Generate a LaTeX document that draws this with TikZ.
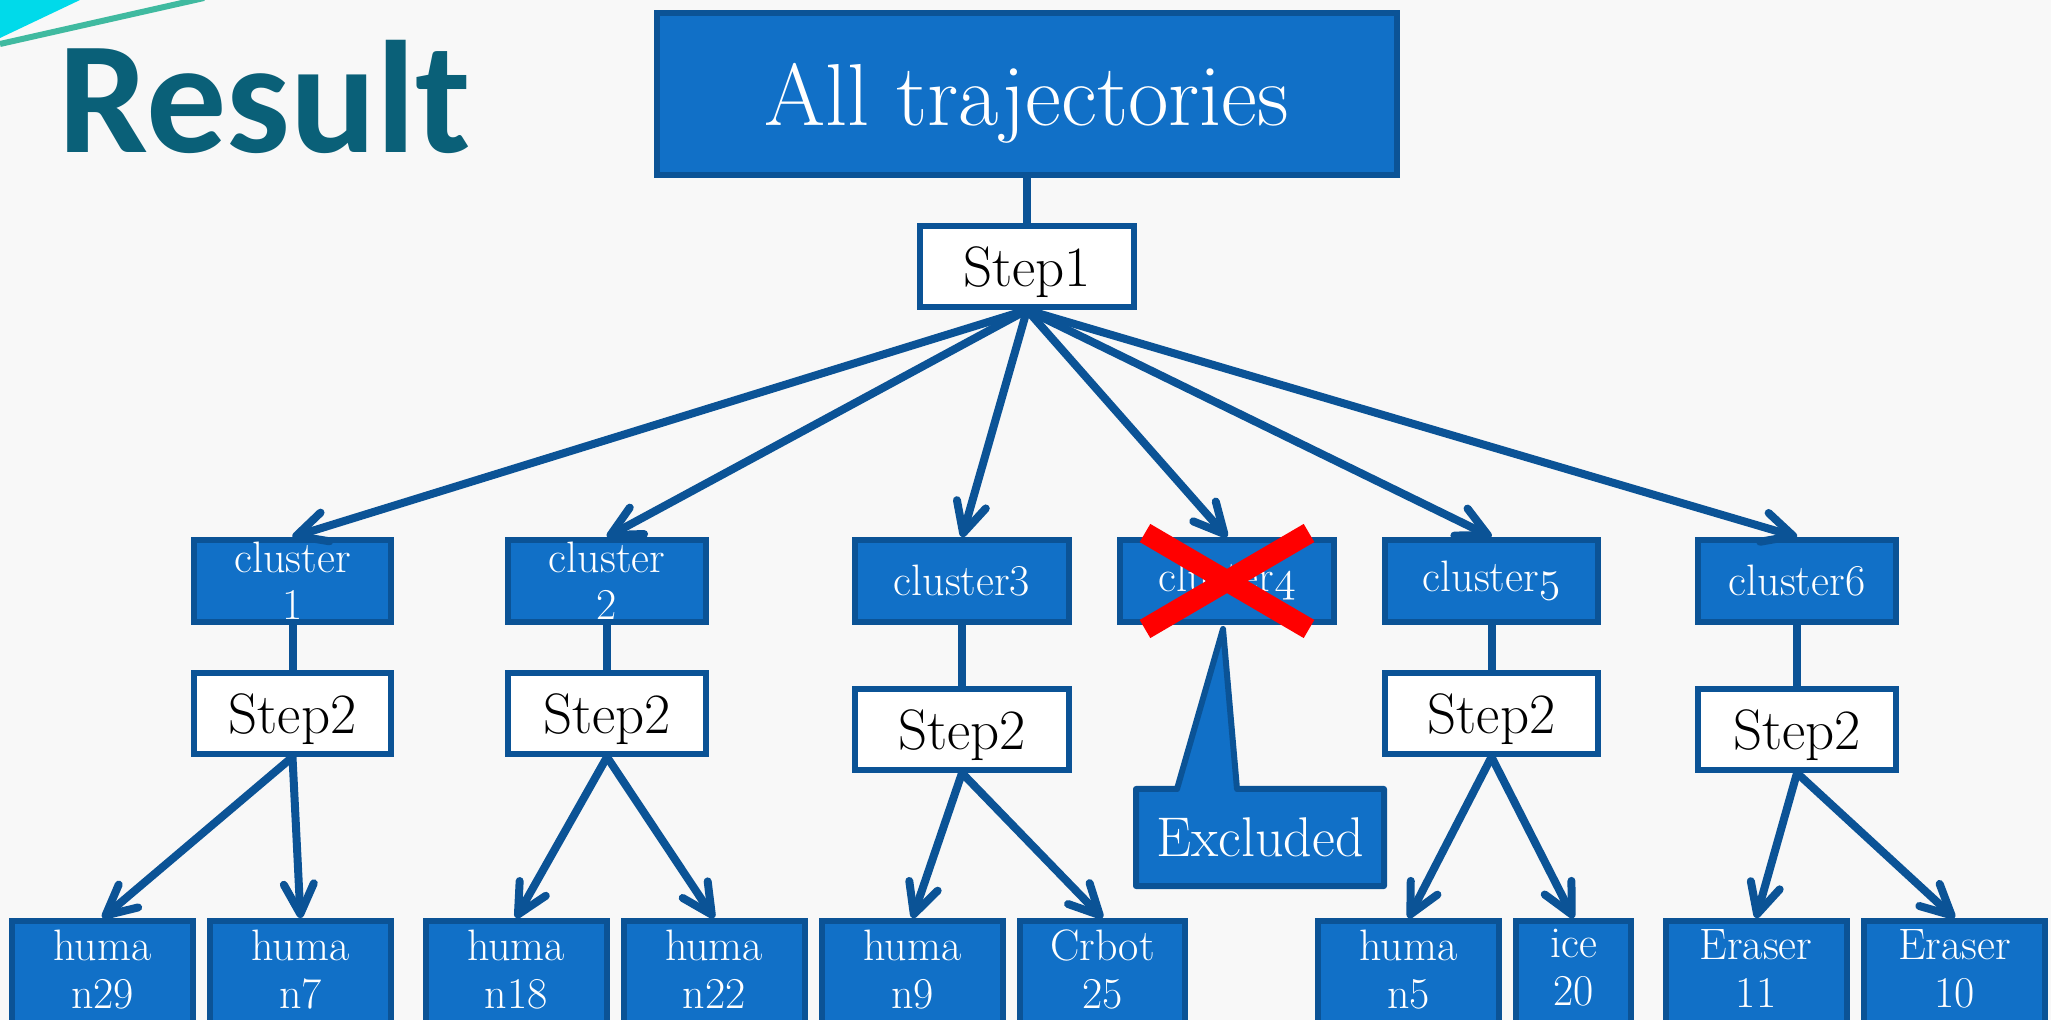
\documentclass[tikz,border=0pt]{standalone}
\usepackage{fix-cm}
\usepackage{xcolor}
\usepackage{fontspec}
\newfontfamily\headfont{Carlito}
\usepackage{tikz}
\usetikzlibrary{arrows.meta,positioning}

\definecolor{boxblue}{RGB}{17,112,199}
\definecolor{edgeblue}{RGB}{11,83,150}
\definecolor{headteal}{RGB}{10,96,120}
\definecolor{pagegray}{RGB}{248,248,248}
\definecolor{cornercyan}{RGB}{0,218,234}
\definecolor{stripegreen}{RGB}{64,186,160}

% old-style figures from the math italic font
\newcommand{\osnum}[1]{{\usefont{OML}{cmm}{m}{it}#1}}

\begin{document}
\begin{tikzpicture}[
  x=0.5pt, y=-0.5pt,
  rootbox/.style={draw=edgeblue, fill=boxblue, text=white, line width=3pt,
    minimum width=370pt, minimum height=81pt, text depth=0pt,
    font=\fontsize{44}{52}\selectfont},
  stepbox/.style={draw=edgeblue, fill=white, line width=3pt, text depth=0pt,
    minimum height=40.5pt, font=\fontsize{28.5}{34}\selectfont},
  clusterbox/.style={draw=edgeblue, fill=boxblue, text=white, line width=3pt,
    align=center, inner ysep=1pt, minimum height=41pt,
    font=\fontsize{22}{23.5}\selectfont},
  leafbox/.style={draw=edgeblue, fill=boxblue, text=white, line width=3pt,
    align=center, anchor=north, inner ysep=4.25pt, minimum width=90.5pt,
    font=\fontsize{22}{24}\selectfont,
    execute at end node={\rule[-14pt]{0pt}{14pt}}},
  calloutbox/.style={minimum width=124pt, minimum height=48.5pt, outer sep=0pt},
  callout/.style={draw=edgeblue, fill=boxblue, line width=3pt, line join=round},
  link/.style={draw=edgeblue, line width=4pt},
  arr/.style={link, -{Straight Barb[length=15pt, width=15pt, round]}},
  cross/.style={draw=red, line width=10.5pt}
]
\clip (0,0) rectangle (2051,1020);
\fill[pagegray] (0,0) rectangle (2051,1020);
\fill[cornercyan] (0,0) -- (80,0) -- (0,38) -- cycle;
\draw[stripegreen, line width=3pt] (0,44) -- (204,-2);

\node[anchor=base west, inner sep=0pt, text=headteal,
  font=\headfont\bfseries\fontsize{80}{84}\selectfont] (title) at (58,153) {Result};

\node[rootbox] (root) at (1027,94) {All trajectories};
\node[stepbox, minimum width=107pt, below=22.5pt of root] (step1) {Step1};

\node[clusterbox, minimum width=98.5pt] (c1) at (292.5,581) {cluster\\1};
\node[clusterbox, minimum width=99pt] (c2) at (607,581) {cluster\\2};
\node[clusterbox, minimum width=107pt] (c3) at (962,581) {cluster3};
\node[clusterbox, minimum width=107pt] (c4) at (1227,581) {cluster\osnum{4}};
\node[clusterbox, minimum width=106.5pt] (c5) at (1491.5,581) {cluster\osnum{5}};
\node[clusterbox, minimum width=99pt] (c6) at (1797,581) {cluster6};

\node[stepbox, minimum width=98.5pt, below=22.5pt of c1] (s1) {Step2};
\node[stepbox, minimum width=99pt, below=22.5pt of c2] (s2) {Step2};
\node[stepbox, minimum width=107pt, below=30.5pt of c3] (s3) {Step2};
\node[stepbox, minimum width=106.5pt, below=22.5pt of c5] (s5) {Step2};
\node[stepbox, minimum width=99pt, below=30.5pt of c6] (s6) {Step2};

\node[leafbox] (l1) at (102.5,918) {huma\\n29};
\node[leafbox] (l2) at (300.5,918) {huma\\n7};
\node[leafbox] (l3) at (516,918) {huma\\n18};
\node[leafbox] (l4) at (714,918) {huma\\n22};
\node[leafbox] (l5) at (912.5,918) {huma\\n9};
\node[leafbox, minimum width=82.5pt] (l6) at (1102.5,918) {Crbot\\25};
\node[leafbox] (l7) at (1408.5,918) {huma\\n5};
\node[leafbox, minimum width=57.5pt] (l8) at (1573.5,918) {ice\\20};
\node[leafbox] (l9) at (1756,918) {Eraser\\11};
\node[leafbox] (l10) at (1954.5,918) {Eraser\\10};

\draw[link] (root) -- (step1);
\draw[arr] (step1.south) -- (c1.north);
\draw[arr] (step1.south) -- (c2.north);
\draw[arr] (step1.south) -- (c3.north);
\draw[arr] (step1.south) -- (c4.north);
\draw[arr] (step1.south) -- (c5.north);
\draw[arr] (step1.south) -- (c6.north);

\draw[link] (c1) -- (s1);
\draw[link] (c2) -- (s2);
\draw[link] (c3) -- (s3);
\draw[link] (c5) -- (s5);
\draw[link] (c6) -- (s6);

\draw[arr] (s1.south) -- (l1.north);
\draw[arr] (s1.south) -- (l2.north);
\draw[arr] (s2.south) -- (l3.north);
\draw[arr] (s2.south) -- (l4.north);
\draw[arr] (s3.south) -- (l5.north);
\draw[arr] (s3.south) -- (l6.north);
\draw[arr] (s5.south) -- (l7.north);
\draw[arr] (s5.south) -- (l8.north);
\draw[arr] (s6.south) -- (l9.north);
\draw[arr] (s6.south) -- (l10.north);

% callout hanging from the dropped cluster
\node[calloutbox] (excl) at (1260,837.5) {};
\filldraw[callout] (excl.north west) -- ++(41,0)
  -- ([xshift=-2pt,yshift=-2pt]c4.south)
  -- ([xshift=50.5pt]excl.north west) -- (excl.north east)
  -- (excl.south east) -- (excl.south west) -- cycle;
\node[text=white, font=\fontsize{28}{34}\selectfont] (excltext) at (excl.center) {Excluded};

\draw[cross] ([shift={(-82,-48)}]c4.center) -- ([shift={(82,48)}]c4.center);
\draw[cross] ([shift={(82,-48)}]c4.center) -- ([shift={(-82,48)}]c4.center);
\end{tikzpicture}
\end{document}
